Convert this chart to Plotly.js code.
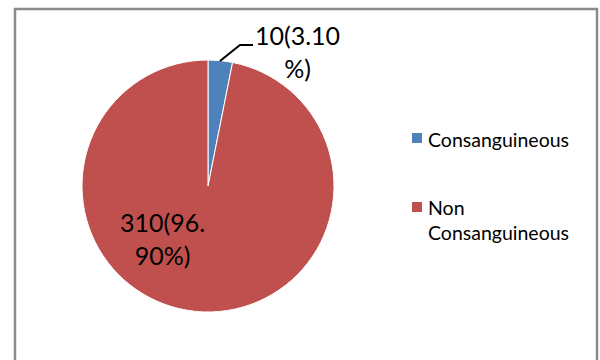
<!DOCTYPE html>
<html>
<head>
<meta charset="utf-8">
<script src="https://cdn.plot.ly/plotly-3.0.1.min.js"></script>
<style>html,body{margin:0;padding:0;background:#fff}#chart{width:600px;height:360px}</style>
</head>
<body>
<div id="chart"></div>
<script>
// Data
const categories = ["Consanguineous", "Non Consanguineous"];
const legendLabels = ["Consanguineous", "Non<br>Consanguineous"];
const counts = [10, 310];
const percents = [3.10, 96.90];
const colors = ["#4F81BD", "#C0504D"];

const W = 600, H = 360;
const px = v => v / W;
const py = v => 1 - v / H;

// Data label text built from the values (wrapped after 7 characters like the original)
const labelText = counts.map((c, i) => {
  const full = c + "(" + percents[i].toFixed(2) + "%)";
  return full.slice(0, 7) + "<br>" + full.slice(7);
});

const cx = 208, cy = 186, r = 126;

const trace = {
  type: "pie",
  labels: categories,
  values: counts,
  sort: false,
  direction: "clockwise",
  rotation: 0,
  textinfo: "none",
  hoverinfo: "skip",
  showlegend: false,
  marker: { colors: colors, line: { color: "#ffffff", width: 1 } },
  domain: { x: [px(cx - r), px(cx + r)], y: [py(cy + r), py(cy - r)] }
};

const labelFont = { family: "Lato, 'Open Sans', sans-serif", size: 25, color: "#000000" };
const legendFont = { family: "Lato, 'Open Sans', sans-serif", size: 19.5, color: "#000000" };

const annotations = [
  { xref: "paper", yref: "paper", x: px(297), y: py(52), text: labelText[0],
    showarrow: false, xanchor: "center", yanchor: "middle", font: labelFont, align: "center" },
  { xref: "paper", yref: "paper", x: px(162), y: py(238), text: labelText[1],
    showarrow: false, xanchor: "center", yanchor: "middle", font: labelFont, align: "center" },
  { xref: "paper", yref: "paper", x: px(426), y: py(139), text: legendLabels[0],
    showarrow: false, xanchor: "left", yanchor: "middle", font: legendFont, align: "left" },
  { xref: "paper", yref: "paper", x: px(426), y: py(220), text: legendLabels[1],
    showarrow: false, xanchor: "left", yanchor: "middle", font: legendFont, align: "left" }
];

const shapes = [
  // chart border
  { type: "rect", xref: "paper", yref: "paper", x0: px(15), x1: px(597), y0: py(9), y1: py(372),
    line: { color: "#8a8a8a", width: 2.5 }, fillcolor: "rgba(0,0,0,0)" },
  // leader line
  { type: "path", xref: "paper", yref: "paper",
    path: "M " + px(220) + "," + py(61) + " L " + px(240) + "," + py(45) + " L " + px(253) + "," + py(45),
    line: { color: "#000000", width: 2 } },
  // legend swatches
  { type: "rect", xref: "paper", yref: "paper", x0: px(412), x1: px(422), y0: py(133), y1: py(143),
    line: { width: 0 }, fillcolor: colors[0] },
  { type: "rect", xref: "paper", yref: "paper", x0: px(412), x1: px(422), y0: py(202), y1: py(212),
    line: { width: 0 }, fillcolor: colors[1] }
];

const layout = {
  width: W, height: H,
  margin: { l: 0, r: 0, t: 0, b: 0 },
  paper_bgcolor: "#ffffff",
  showlegend: false,
  annotations: annotations,
  shapes: shapes
};

Plotly.newPlot("chart", [trace], layout, { staticPlot: true, displayModeBar: false });
</script>
</body>
</html>
